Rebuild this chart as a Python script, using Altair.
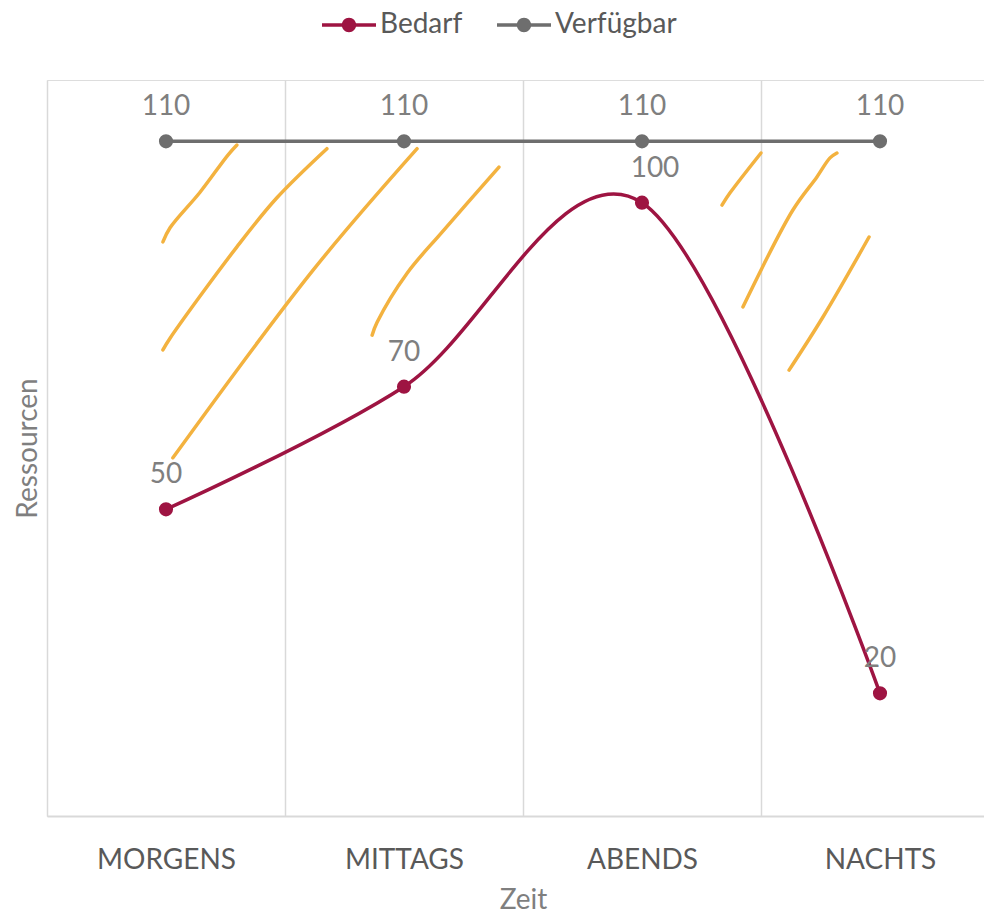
import json
import altair as alt
import pandas as pd

# ---------------- data ----------------
categories = ["MORGENS", "MITTAGS", "ABENDS", "NACHTS"]
series_names = ["Bedarf", "Verfügbar"]
bedarf = [50, 70, 100, 20]
verfuegbar = [110, 110, 110, 110]
series_colors = ["#9E1442", "#6E6E6E"]

# hand-drawn highlight strokes, in chart units
# (x: category slots, 0 = left edge of MORGENS; y: Ressourcen units)
stroke1_x = [0.487, 0.517, 0.643, 0.761, 0.798]
stroke1_y = [93.6, 95.9, 101.7, 107.8, 109.4]
stroke2_x = [0.487, 0.517, 0.798, 0.966, 1.176]
stroke2_y = [76.0, 77.9, 92.8, 100.8, 108.8]
stroke3_x = [0.529, 1.118, 1.555]
stroke3_y = [58.4, 89.0, 108.8]
stroke4_x = [1.366, 1.387, 1.513, 1.660, 1.899]
stroke4_y = [78.4, 80.5, 88.5, 95.2, 105.8]
stroke5_x = [2.836, 2.870, 3.000]
stroke5_y = [99.6, 101.6, 108.1]
stroke6_x = [2.924, 3.134, 3.235, 3.290, 3.319]
stroke6_y = [83.0, 98.8, 104.2, 107.3, 108.1]
stroke7_x = [3.118, 3.261, 3.454]
stroke7_y = [72.7, 81.4, 94.4]

strokes = [(stroke1_x, stroke1_y), (stroke2_x, stroke2_y), (stroke3_x, stroke3_y),
           (stroke4_x, stroke4_y), (stroke5_x, stroke5_y), (stroke6_x, stroke6_y),
           (stroke7_x, stroke7_y)]

# ---------------- tables ----------------
rows = []
for name, vals in zip(series_names, [bedarf, verfuegbar]):
    for i, (cat, v) in enumerate(zip(categories, vals)):
        rows.append({"series": name, "cat": cat, "pos": i + 0.5, "value": v})
df = pd.DataFrame(rows)

srows = []
for sid, (xs, ys) in enumerate(strokes):
    for k, (x, y) in enumerate(zip(xs, ys)):
        srows.append({"sid": sid, "ord": k, "x": x, "y": y})
sdf = pd.DataFrame(srows)

FONT = "Lato"
xscale = alt.Scale(domain=[0, 3.937], nice=False, zero=False)
yscale = alt.Scale(domain=[0, 120], nice=False, zero=True)
cscale = alt.Scale(domain=series_names, range=series_colors)

label_expr = json.dumps(categories, ensure_ascii=False) + "[floor(datum.value)]"

# line-with-dot legend glyph (drawn wider than its 20px layout box)
legend_symbol = ("M-2.7,-0.175 L2.7,-0.175 L2.7,0.175 L-2.7,0.175 Z "
                 "M0.72,0 A0.72,0.72 0 1,1 -0.72,0 A0.72,0.72 0 1,1 0.72,0 Z")

strokes_layer = alt.Chart(sdf).mark_line(
    color="#F3B23F", strokeWidth=3.5, strokeCap="round", strokeJoin="round",
    interpolate="catmull-rom"
).encode(
    x=alt.X("x:Q", scale=xscale, axis=alt.Axis(
        orient="bottom", values=[0, 1, 2, 3, 4], grid=True, gridColor="#D9D9D9",
        gridWidth=1.5, labels=False, ticks=False, domain=True,
        domainColor="#D9D9D9", domainWidth=2, title=None)),
    y=alt.Y("y:Q", scale=yscale, axis=None),
    detail="sid:N",
    order="ord:Q",
)

line_layer = alt.Chart(df).mark_line(
    strokeWidth=3.5, interpolate="cardinal"
).encode(
    x=alt.X("pos:Q", scale=xscale, axis=alt.Axis(
        orient="bottom", values=[0.5, 1.5, 2.5, 3.5], labelExpr=label_expr,
        grid=False, ticks=False, domain=False, labelFont=FONT, labelFontSize=28,
        labelColor="#595959", labelPadding=30, labelAlign="center",
        title="Zeit", titleFont=FONT, titleFontSize=28, titleColor="#7F7F7F",
        titleFontWeight="normal", titleBaseline="alphabetic", titleX=476,
        titleY=92, titleAlign="center")),
    y=alt.Y("value:Q", scale=yscale, axis=alt.Axis(
        orient="left", labels=False, ticks=False, domain=False, grid=False,
        title="Ressourcen", titleFont=FONT, titleFontSize=28,
        titleColor="#7F7F7F", titleFontWeight="normal",
        titleBaseline="alphabetic", titleX=-11, titleY=368,
        titleAlign="center", titleAngle=270)),
    stroke=alt.Stroke("series:N", scale=cscale, legend=None),
    detail="series:N",
)

point_layer = alt.Chart(df).mark_point(
    filled=True, size=200, opacity=1
).encode(
    x=alt.X("pos:Q", scale=xscale, axis=None),
    y=alt.Y("value:Q", scale=yscale, axis=None),
    color=alt.Color("series:N", scale=cscale, legend=alt.Legend(
        title=None, orient="none", legendX=288, legendY=-69,
        direction="horizontal", symbolType=legend_symbol, symbolSize=400,
        symbolStrokeWidth=0, symbolOpacity=1, labelFont=FONT,
        labelFontSize=28, labelColor="#595959", labelOffset=17,
        columnPadding=34)),
)

is_shifted = (alt.datum.series == series_names[0]) & (alt.datum.cat == categories[2])

text_layer = alt.Chart(df).mark_text(
    dy=-34, font=FONT, fontSize=28, color="#7F7F7F", baseline="middle",
    align="center"
).encode(
    x=alt.X("pos:Q", scale=xscale, axis=None),
    y=alt.Y("value:Q", scale=yscale, axis=None),
    text="value:Q",
).transform_filter(~is_shifted)

text_layer_shifted = alt.Chart(df).mark_text(
    dy=-34, dx=13, font=FONT, fontSize=28, color="#7F7F7F", baseline="middle",
    align="center"
).encode(
    x=alt.X("pos:Q", scale=xscale, axis=None),
    y=alt.Y("value:Q", scale=yscale, axis=None),
    text="value:Q",
).transform_filter(is_shifted)

chart = alt.layer(
    strokes_layer, line_layer, point_layer, text_layer, text_layer_shifted
).resolve_axis(
    x="independent", y="independent"
).resolve_scale(stroke="independent").properties(
    width=937, height=736,
    autosize=alt.AutoSizeParams(type="none"),
    padding={"left": 39, "top": 72, "right": 0, "bottom": 97},
).configure_view(stroke=None).configure(font=FONT)

chart.save("out.html", embed_options={"renderer": "svg", "actions": False})
